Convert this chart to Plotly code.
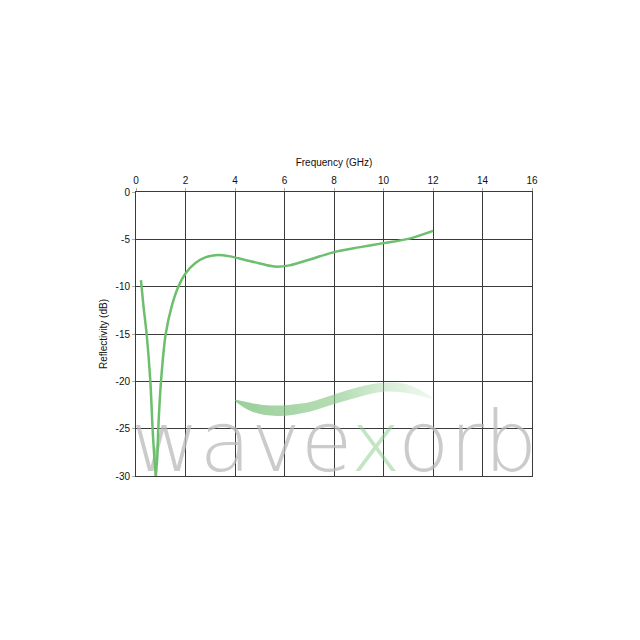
import plotly.graph_objects as go

# reflectivity curve (None splits the path at the notch)
freq_ghz = [0.2, 0.3, 0.43, 0.58, 0.67, 0.74, 0.8, None,
            0.8, 0.86, 0.9, 1.01, 1.2, 1.45, 1.71, 2.0, 2.4, 2.8, 3.3, 3.8,
            4.3, 5.0, 5.6, 6.2, 7.0, 8.0, 9.0, 10.0, 11.0, 12.0]
reflect_db = [-9.3, -12, -15, -20, -25, -28, -30, None,
              -30, -28, -25, -20, -15, -12, -10, -8.6, -7.5, -6.9, -6.65, -6.8,
              -7.1, -7.55, -7.88, -7.75, -7.15, -6.35, -5.85, -5.4, -4.95, -4.1]

x_ticks = [0, 2, 4, 6, 8, 10, 12, 14, 16]
y_ticks = [0, -5, -10, -15, -20, -25, -30]
y_ticklabels = ["0", "-5", "-10", "-15", "-20", "-25", "-30"]

# watermark swoosh outline (top edge left->right, bottom edge right->left)
swoosh_x = [4.0, 5.0, 5.7, 7.0, 8.0, 9.0, 10.0, 11.0, 12.0,
            11.0, 10.0, 9.0, 8.0, 7.0, 5.7, 4.7, 4.0]
swoosh_y = [-22.0, -22.45, -22.55, -22.2, -21.4, -20.6, -20.15, -20.35, -21.8,
            -21.25, -21.1, -21.65, -22.4, -23.2, -23.65, -23.2, -22.0]

GREEN = "#6cbf6c"
FONT = "Liberation Sans, Arial, sans-serif"

fig = go.Figure()

fig.add_trace(go.Scatter(
    x=swoosh_x, y=swoosh_y,
    mode="lines", line=dict(width=0, shape="spline"),
    fill="toself",
    fillgradient=dict(type="horizontal",
                      colorscale=[[0, "rgba(120,190,120,0.75)"],
                                  [0.55, "rgba(135,200,135,0.6)"],
                                  [1, "rgba(180,220,180,0.2)"]]),
    hoverinfo="skip", showlegend=False,
))

fig.add_trace(go.Scatter(
    x=[8.0], y=[-27.3],
    mode="text",
    text=["wave<span style='fill:rgba(140,205,140,0.7)'>x</span>orb"],
    textposition="middle center",
    textfont=dict(family="DejaVu Sans", size=84, weight=200,
                  color="rgba(185,185,185,0.75)"),
    cliponaxis=True, hoverinfo="skip", showlegend=False,
))

fig.add_trace(go.Scatter(
    x=freq_ghz, y=reflect_db,
    mode="lines",
    line=dict(color=GREEN, width=2.5, shape="spline", smoothing=0.8),
    connectgaps=False,
    showlegend=False,
))

fig.update_layout(
    width=640, height=640,
    margin=dict(l=128, r=116, t=184, b=172),
    paper_bgcolor="white", plot_bgcolor="white",
    font=dict(family=FONT, size=10, color="#111"),
)

fig.update_xaxes(
    side="top", range=[0, 16], tickvals=x_ticks,
    title=dict(text="Frequency (GHz)", standoff=6, font=dict(size=10)),
    showgrid=True, gridcolor="#3a3a3a", gridwidth=1,
    showline=True, linecolor="#3a3a3a", linewidth=1, mirror=True,
    ticks="outside", ticklen=3, tickcolor="#aaa",
    zeroline=False,
)
fig.update_yaxes(
    range=[-30, 0], tickvals=y_ticks, ticktext=y_ticklabels,
    title=dict(text="Reflectivity (dB)", standoff=6, font=dict(size=10)),
    showgrid=True, gridcolor="#3a3a3a", gridwidth=1,
    showline=True, linecolor="#3a3a3a", linewidth=1, mirror=True,
    ticks="outside", ticklen=3, tickcolor="#aaa",
    zeroline=False,
)

fig.write_html("out.html")
